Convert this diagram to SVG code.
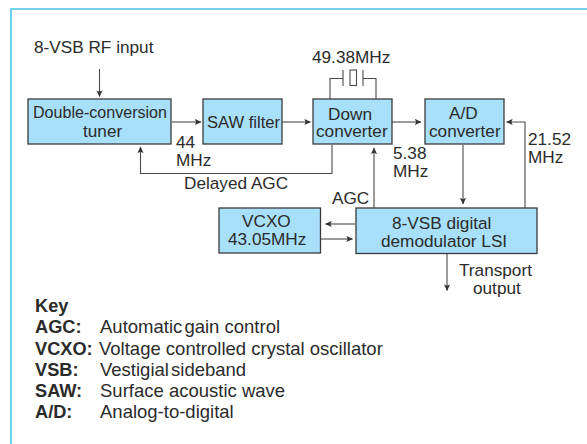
<svg xmlns="http://www.w3.org/2000/svg" width="587" height="444" viewBox="0 0 587 444">
<style>
text{font-family:"Liberation Sans",Arial,sans-serif;font-size:17.200px;fill:#2b2b2b}
.k{font-size:18.500px}
.t{word-spacing:-3px}
.b{font-weight:bold;font-size:18.200px}
.box{fill:#a8dff9;stroke:#3c3c3c;stroke-width:1.3}
.c{fill:none;stroke:#4a4a4a;stroke-width:1.1}
.f{fill:none;stroke:#45c4e4;stroke-width:1.6}
</style>
<defs><marker id="a" viewBox="0 0 8 8" refX="7" refY="4" markerWidth="7" markerHeight="7" markerUnits="userSpaceOnUse" orient="auto"><path d="M0 0.5L7.500 4L0 7.500L1.500 4Z" fill="#333"/></marker></defs>
<rect width="587" height="444" fill="#fff"/>
<path class="f" d="M11 444V9H587"/>
<g id="connectors">
<path class="c" marker-end="url(#a)" d="M99.500 69V96.500"/>
<path class="c" marker-end="url(#a)" d="M172 122H201"/>
<path class="c" marker-end="url(#a)" d="M282 122H310.500"/>
<path class="c" marker-end="url(#a)" d="M392 122H421"/>
<path class="c" marker-end="url(#a)" d="M332 145V173.500H140.500V147"/>
<path class="c" marker-end="url(#a)" d="M374 208V148"/>
<path class="c" marker-end="url(#a)" d="M463 145V204"/>
<path class="c" marker-end="url(#a)" d="M525 208V122H506.500"/>
<path class="c" marker-end="url(#a)" d="M355 224H325.500"/>
<path class="c" marker-end="url(#a)" d="M321 239H352.500"/>
<path class="c" marker-end="url(#a)" d="M447 254V290.500"/>
<path class="c" d="M330 99V78.500H343M376 99V78.500H363M343 70V86M363 70V86"/>
<rect class="c" x="350" y="70" width="6.500" height="15.500"/>
</g>
<g id="tuner"><rect class="box" x="28" y="99" width="143" height="45"/><text x="33" y="118" textLength="134" lengthAdjust="spacingAndGlyphs">Double-conversion</text><text x="83" y="137">tuner</text></g>
<g id="saw"><rect class="box" x="203" y="99" width="79" height="45"/><text x="207" y="128" textLength="73" lengthAdjust="spacingAndGlyphs">SAW filter</text></g>
<g id="down"><rect class="box" x="313" y="99" width="79" height="45"/><text x="328" y="120">Down</text><text x="316" y="137">converter</text></g>
<g id="ad"><rect class="box" x="425" y="99" width="79" height="45"/><text x="449" y="119">A/D</text><text x="429" y="137">converter</text></g>
<g id="vcxo"><rect class="box" x="219" y="208" width="101.500" height="45"/><text x="242" y="227">VCXO</text><text x="228" y="245">43.05MHz</text></g>
<g id="demod"><rect class="box" x="356" y="208" width="181" height="45.500"/><text x="392" y="229">8-VSB digital</text><text x="381" y="247">demodulator LSI</text></g>
<g id="labels">
<text x="34" y="53">8-VSB RF input</text>
<text x="176" y="148">44</text><text x="176" y="166">MHz</text>
<text x="184" y="189">Delayed AGC</text>
<text x="312" y="63">49.38MHz</text>
<text x="393" y="159">5.38</text><text x="393" y="177">MHz</text>
<text x="528" y="145">21.52</text><text x="528" y="163">MHz</text>
<text x="332" y="204">AGC</text>
<text x="459" y="276">Transport</text><text x="473" y="294">output</text>
</g>
<g id="key">
<text class="b" x="35" y="312">Key</text>
<text class="b" x="35" y="333">AGC:</text><text class="k" x="100" y="333">Automatic <tspan dx="-3">gain control</tspan></text>
<text class="b" x="35" y="355">VCXO:</text><text class="k" x="99" y="355">Voltage controlled crystal oscillator</text>
<text class="b" x="35" y="376">VSB:</text><text class="k t" x="100" y="376">Vestigial sideband</text>
<text class="b" x="35" y="397">SAW:</text><text class="k" x="100" y="397">Surface acoustic wave</text>
<text class="b" x="35" y="418">A/D:</text><text class="k" x="100" y="418">Analog-to-digital</text>
</g>
</svg>
